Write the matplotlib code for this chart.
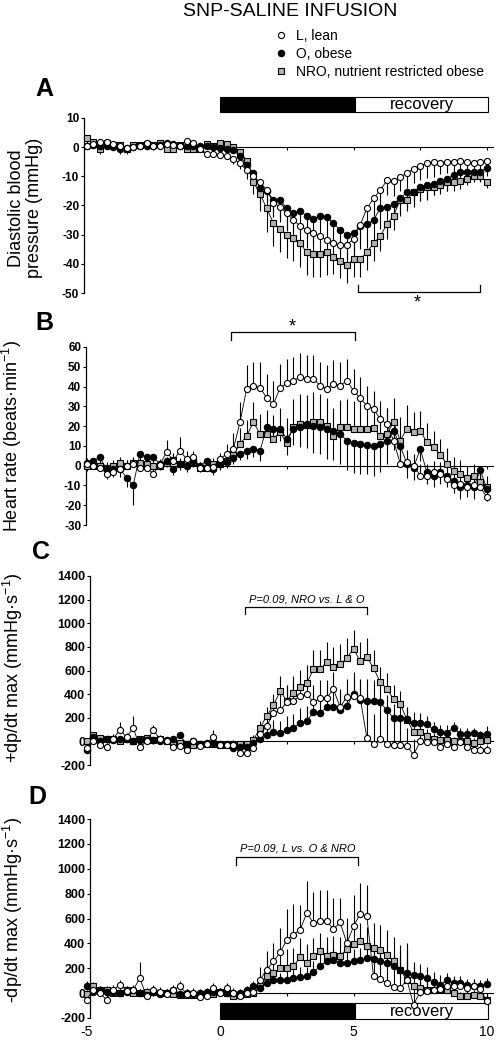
import numpy as np
import matplotlib
matplotlib.use("Agg")
import matplotlib.pyplot as plt
from matplotlib.patches import Rectangle
from matplotlib.lines import Line2D

plt.rcParams['font.family'] = ['Liberation Sans', 'DejaVu Sans']
plt.rcParams['mathtext.fontset'] = 'custom'
plt.rcParams['mathtext.rm'] = 'Liberation Sans'
plt.rcParams['axes.unicode_minus'] = False

# time (min), -5 .. 10 in 15 s bins
minutes = np.arange(-5, 10.01, 0.25)

# ---- A: diastolic blood pressure (mmHg) ----
dbp_L = [0.5, 1.2, 1.6, 1.8, 1.0, 0.5, -0.2, 0.0, 0.3, 1.3,
         0.5, 0.5, 1.0, 0.8, 0.5, 2.2, 1.3, -0.5, -2.2, -2.2,
         -2.7, -2.9, -3.9, -5.6, -7.9, -10.0, -12.0, -14.7, -19.0, -20.5,
         -22.7, -25.0, -27.0, -28.5, -29.5, -30.5, -32.0, -33.0, -33.5, -33.5,
         -31.5, -26.7, -21.0, -17.6, -14.8, -11.4, -11.7, -10.2, -8.9, -7.4,
         -6.3, -5.5, -5.1, -5.3, -5.0, -5.0, -4.8, -5.2, -5.3, -5.2, -4.8]
dbp_O = [0.5, 0.8, 0.3, 0.5, 0.0, -0.5, -0.3, 0.0, 0.3, 0.5,
         0.5, 0.8, 1.5, 1.0, 0.5, 0.5, 0.5, 0.5, 0.3, 0.0,
         -0.2, -0.5, -1.0, -3.0, -6.0, -9.0, -14.0, -15.0, -18.0, -18.0,
         -21.0, -22.5, -22.0, -23.5, -24.5, -23.5, -24.0, -26.0, -28.5, -30.0,
         -29.5, -27.0, -26.5, -25.0, -21.0, -20.5, -19.5, -17.5, -15.5, -15.5,
         -13.5, -13.0, -12.5, -11.5, -11.0, -9.5, -8.5, -8.5, -8.5, -8.5, -7.0]
dbp_NRO = [3.3, 1.8, -0.5, 1.3, 0.7, 0.7, -0.5, 0.7, 0.7, 1.0,
           0.9, 1.3, -0.5, -0.5, 0.9, -0.8, -0.8, -0.5, 1.0, 0.3,
           1.3, 1.2, 0.0, -1.6, -4.7, -12.0, -16.0, -21.0, -26.0, -28.0,
           -30.0, -31.0, -33.0, -36.0, -36.5, -36.5, -36.0, -37.5, -39.0, -40.5,
           -38.5, -38.5, -36.0, -33.0, -30.5, -26.5, -23.5, -18.0, -18.0, -15.5,
           -14.5, -13.5, -13.5, -13.0, -12.0, -12.0, -11.5, -11.0, -10.0, -10.0, -12.0]
dbp_L_se = [1, 1, 1, 1, 1, 1, 1, 1, 1, 1, 1, 1, 1, 1, 1, 1, 1, 1, 1, 1,
            1, 1, 2, 2, 3, 3, 4, 4, 5, 5, 6, 6, 6, 6, 6, 6, 6, 6, 6, 6,
            6, 6, 6, 6, 5, 5, 5, 5, 5, 5, 5, 5, 5, 4, 4, 4, 4, 4, 4, 4, 4]
dbp_O_se = [1, 1, 2, 1, 1, 2, 2, 1, 1, 1, 1, 1, 1, 1, 1, 1, 1, 1, 1, 1,
            1, 1, 1, 2, 3, 4, 5, 6, 6, 7, 7, 7, 7, 7, 8, 8, 8, 8, 8, 8,
            8, 8, 8, 7, 7, 6, 6, 6, 5, 5, 5, 5, 4, 4, 4, 4, 4, 3, 3, 3, 3]
dbp_NRO_se = [2, 1, 2, 1, 1, 1, 1, 1, 1, 1, 1, 1, 1, 1, 1, 1, 1, 1, 1, 1,
              1, 1, 2, 2, 3, 4, 6, 8, 8, 8, 8, 8, 8, 8, 8, 8, 8, 6, 6, 6,
              6, 6, 6, 6, 5, 5, 5, 5, 4, 4, 4, 4, 3, 3, 3, 3, 3, 2, 2, 2, 2]

# ---- B: heart rate (beats/min) ----
hr_L = [1, 0, -1, -4, -3, -1.5, 0, 1, -1, -1,
        -4, 0.5, 7, 2.5, 7.5, 3.4, 4.5, -1, -1, -0.5,
        3.4, 6, 8.4, 22, 39, 40.5, 39.4, 34.3, 31, 39.4,
        41.7, 43, 44.8, 44, 44, 40.5, 39, 41.4, 40.5, 43,
        38, 34, 30.4, 28.7, 23.6, 21, 12.7, 1, 1.7, 0,
        -5, -5, -3.4, -4, -6.8, -10, -9.3, -11, -10, -11, -16]
hr_O = [1.4, 2.5, 4.2, -1.7, -1.5, -1.7, -6, -10, 6, 4.2,
        4.2, 1, 2.5, -1.7, 1, 0, 2.5, 0, 2.5, -1.7,
        1, 1.7, 3.7, 6, 7.6, 8.4, 7.6, 19.4, 18.6, 18.6,
        13.5, 18.6, 19.4, 21, 20.3, 19.8, 18.6, 17.7, 16, 12.7,
        11.3, 11, 10.7, 10, 11, 12.7, 17.7, 10, 1, -1,
        8.4, -3.4, -5, -3.4, -5, -7.6, -11, -10, -11, -2.2, -12]
hr_NRO = [0, -0.3, -0.3, -1, 0, 1.4, -0.3, 1.4, 1.4, 0.8,
          -0.3, -0.3, 1.2, 3, 0.8, 1.7, 1.7, -1, -1, 0.8,
          1, 2.5, 5.4, 11, 15, 22, 16, 16, 13.5, 17,
          11.3, 19.8, 21, 20.5, 22.3, 22, 20.3, 15.2, 19.4, 19.8,
          18.6, 18.6, 18.6, 19, 15.2, 16, 22, 12.7, 18.6, 17,
          17.7, 11.8, 9.3, 5.6, 0.8, -2.5, -4, -6, -5, -8.4, -11]
hr_L_se = [3, 4, 3, 4, 3, 3, 3, 3, 3, 3, 3, 3, 6, 4, 7, 4, 3, 3, 3, 3,
           3, 5, 8, 10, 12, 12, 13, 12, 12, 12, 12, 12, 12, 12, 12, 12, 12, 12, 12, 11,
           11, 11, 10, 9, 9, 8, 8, 7, 6, 6, 6, 6, 6, 6, 6, 6, 6, 6, 6, 6, 6]
hr_O_se = [4, 4, 3, 5, 4, 4, 5, 10, 3, 3, 3, 3, 3, 3, 3, 3, 3, 3, 3, 3,
           3, 3, 3, 3, 4, 4, 5, 5, 6, 6, 8, 8, 10, 12, 14, 14, 15, 15, 15, 15,
           15, 15, 15, 15, 14, 12, 10, 8, 7, 6, 6, 6, 6, 6, 6, 6, 6, 6, 6, 6, 6]
hr_NRO_se = [3, 3, 3, 3, 3, 3, 3, 3, 3, 3, 3, 3, 3, 3, 3, 3, 3, 3, 3, 3,
             2, 3, 5, 8, 8, 10, 10, 12, 12, 12, 13, 14, 15, 15, 15, 14, 14, 14, 14, 14,
             14, 14, 14, 14, 14, 13, 12, 12, 12, 10, 10, 10, 8, 8, 8, 7, 7, 6, 6, 6, 6]

# ---- C: +dp/dt max (mmHg/s) ----
dpp_L = [-60, 0, -30, -45, 20, 100, 35, 115, -50, 0,
         97, 20, 0, -45, -40, -70, 0, -40, -20, 35,
         -30, -30, -30, -100, -100, -60, 60, 130, 237, 264,
         330, 345, 385, 400, 330, 370, 370, 440, 290, 377,
         380, 370, 30, -20, 20, -20, -30, -30, -40, -113,
         0, -5, -5, -45, -20, -45, -5, -45, -70, -70, -70]
dpp_O = [-70, 35, 5, 20, 10, 20, 20, 0, 10, 10,
         10, 0, 10, 20, 50, -20, 0, -20, -10, -10,
         -20, -20, -60, -45, -45, -10, 20, 50, 80, 70,
         97, 115, 156, 170, 250, 242, 290, 290, 264, 296,
         404, 350, 345, 340, 330, 264, 197, 197, 190, 156,
         156, 143, 102, 80, 75, 115, 62, 62, 70, 50, 62]
dpp_NRO = [0, 50, 25, 20, 20, 0, 20, 0, 20, 25,
           10, 20, 0, -20, -10, -20, -30, -25, -20, -20,
           -30, -30, -30, -25, -25, 10, 115, 215, 305, 425,
           345, 410, 457, 493, 610, 610, 673, 627, 654, 703,
           785, 680, 713, 622, 500, 447, 358, 318, 183, 80,
           80, 43, 20, 10, 10, 0, 0, 0, -10, 0, 10]
dpp_L_se = [30, 30, 30, 30, 40, 60, 40, 100, 30, 30, 40, 30, 30, 30, 30, 30, 30, 30, 30, 60,
            30, 30, 40, 40, 40, 50, 80, 100, 120, 150, 150, 150, 150, 150, 150, 150, 150, 150, 150, 150,
            150, 150, 380, 250, 300, 280, 250, 200, 150, 130, 80, 60, 60, 50, 50, 40, 40, 40, 40, 40, 40]
dpp_O_se = [40, 30, 20, 20, 20, 20, 20, 20, 20, 20, 20, 20, 20, 20, 20, 20, 20, 20, 20, 20,
            20, 20, 20, 20, 30, 40, 60, 80, 100, 100, 120, 120, 130, 130, 150, 150, 150, 150, 150, 150,
            180, 180, 180, 180, 150, 130, 120, 110, 100, 90, 80, 70, 60, 60, 60, 50, 50, 50, 40, 40, 70]
dpp_NRO_se = [20, 20, 20, 20, 20, 20, 20, 20, 20, 20, 20, 20, 20, 20, 20, 20, 20, 20, 20, 20,
              20, 20, 20, 20, 20, 40, 60, 80, 100, 130, 130, 140, 150, 150, 160, 160, 170, 170, 170, 170,
              160, 160, 160, 150, 130, 130, 120, 110, 100, 80, 70, 60, 50, 50, 40, 40, 40, 40, 40, 40, 40]

# ---- D: -dp/dt max (mmHg/s) ----
dpm_L = [-54, 27, 0, -54, 27, 67, 20, 27, 120, -27,
         27, 13, -5, 27, 54, -5, 0, -32, -27, 40,
         0, 40, 5, -27, 0, 13, 107, 188, 255, 327,
         429, 470, 510, 644, 563, 577, 577, 515, 568, 402,
         536, 638, 617, 134, 113, 80, 50, 40, 107, -94,
         13, 20, 25, 30, 54, 54, 54, 40, 54, 30, -67]
dpm_O = [54, 13, 27, 13, 13, 0, 13, 27, 0, -13,
         13, -5, 0, 27, -5, 5, -5, 5, 13, 13,
         13, 0, 5, 0, 27, 54, 40, 80, 102, 102,
         107, 120, 129, 134, 166, 220, 255, 263, 241, 241,
         255, 263, 282, 273, 255, 241, 215, 188, 161, 147,
         134, 120, 86, 67, 102, 80, 80, 67, 54, 59, 75]
dpm_NRO = [-5, 54, 27, 27, 0, 5, 27, 5, 5, 13,
           13, 0, 5, -5, -13, -13, -13, -13, -5, -5,
           13, 5, -27, -13, -5, 0, 54, 134, 161, 201,
           201, 215, 290, 241, 295, 335, 300, 308, 300, 354,
           397, 416, 381, 362, 349, 308, 255, 188, 102, 59,
           40, 27, 27, 32, 27, 5, -27, -21, -13, -27, -54]
dpm_L_se = [40, 60, 40, 40, 40, 40, 40, 40, 130, 40, 40, 40, 40, 40, 40, 40, 40, 40, 40, 40,
            40, 40, 40, 40, 40, 60, 100, 150, 150, 200, 250, 250, 200, 256, 250, 250, 250, 250, 200, 200,
            250, 250, 250, 200, 250, 250, 250, 300, 300, 160, 100, 100, 80, 60, 60, 60, 60, 60, 60, 60, 60]
dpm_O_se = [40, 30, 30, 30, 30, 30, 30, 30, 30, 30, 30, 30, 30, 30, 30, 30, 30, 30, 30, 30,
            30, 30, 30, 30, 30, 40, 50, 60, 60, 60, 70, 70, 80, 80, 90, 100, 100, 100, 100, 100,
            100, 100, 100, 100, 100, 100, 100, 100, 100, 100, 100, 90, 80, 80, 60, 60, 60, 50, 50, 50, 50]
dpm_NRO_se = [30, 30, 30, 30, 30, 30, 30, 30, 30, 30, 30, 30, 30, 30, 30, 30, 30, 30, 30, 30,
              30, 30, 30, 30, 30, 40, 100, 150, 150, 150, 150, 150, 150, 150, 150, 150, 150, 150, 150, 150,
              150, 150, 150, 200, 200, 200, 200, 200, 250, 150, 100, 80, 60, 50, 50, 40, 40, 40, 40, 40, 40]

group_labels = ['L, lean', 'O, obese', 'NRO, nutrient restricted obese']

W, H = 498, 1046
fig = plt.figure(figsize=(W / 100, H / 100), dpi=100)

X0, PPU = 220.0, 26.7   # pixel of t=0 and pixels per minute
RIGHT = 493

sty = {
    'L': dict(marker='o', mfc='white', mec='black', ms=4.4, mew=0.8),
    'O': dict(marker='o', mfc='black', mec='black', ms=4.6, mew=0.8),
    'NRO': dict(marker='s', mfc='#b3b3b3', mec='black', ms=4.6, mew=0.8),
}


def make_axes(left, top, bottom, ylim, yticks, tickfs):
    ax = fig.add_axes([left / W, 1 - bottom / H, (RIGHT - left) / W, (bottom - top) / H])
    ax.set_xlim((left - X0) / PPU, (RIGHT - X0) / PPU)
    ax.set_ylim(*ylim)
    ax.set_yticks(yticks)
    ax.set_yticklabels([str(v) for v in yticks], fontweight='bold', fontsize=tickfs)
    ax.set_xticks([-2.5, 0, 2.5, 5, 7.5, 10])
    ax.tick_params(axis='x', direction='out', length=2.5, width=0.8, labelbottom=False)
    ax.tick_params(axis='y', direction='out', length=2.5, width=0.8, pad=1)
    for s in ['top', 'right']:
        ax.spines[s].set_visible(False)
    ax.spines['bottom'].set_position(('data', 0))
    ax.spines['left'].set_linewidth(0.9)
    ax.spines['bottom'].set_linewidth(0.8)
    ax.patch.set_alpha(0)
    return ax


def draw_series(ax, series):
    # series: list of (key, values, se, direction)
    for key, vals, se, d in series:
        v = np.asarray(vals, float)
        e = np.asarray(se, float)
        ax.vlines(minutes, v, v + d * e, color='black', lw=0.8, zorder=2, clip_on=False)
    for i, (key, vals, se, d) in enumerate(series):
        ax.plot(minutes, vals, color='black', lw=0.6, zorder=3 + i, clip_on=False, **sty[key])


def bracket(ax, x1, x2, y, yend):
    ax.plot([x1, x1, x2, x2], [yend, y, y, yend], color='black', lw=0.9, clip_on=False)


def phase_bar(ax, y0, h):
    ax.add_patch(Rectangle((0, y0), 5.05, h, fc='black', ec='black', lw=0.8, clip_on=False))
    ax.add_patch(Rectangle((5.05, y0), 5.0, h, fc='white', ec='black', lw=0.8, clip_on=False))
    ax.text(7.55, y0 + h / 2, 'recovery', ha='center', va='center', fontsize=12, clip_on=False)


# Panel A
axA = make_axes(84, 118, 293, (-50, 10), list(range(-50, 11, 10)), 8.5)
draw_series(axA, [('NRO', dbp_NRO, dbp_NRO_se, -1), ('O', dbp_O, dbp_O_se, -1), ('L', dbp_L, dbp_L_se, -1)])
phase_bar(axA, 12.0, 5.2)
bracket(axA, 5.15, 9.75, -49.6, -47.2)
axA.text(7.4, -53.5, '*', ha='center', va='center', fontsize=13)

# Panel B
axB = make_axes(86, 347, 525, (-30, 60), list(range(-30, 61, 10)), 8.5)
draw_series(axB, [('NRO', hr_NRO, hr_NRO_se, 1), ('O', hr_O, hr_O_se, -1), ('L', hr_L, hr_L_se, 1)])
bracket(axB, 0.4, 5.05, 67.6, 63.5)
axB.text(2.7, 70.0, '*', ha='center', va='center', fontsize=13)

# Panel C
axC = make_axes(90, 576, 765, (-200, 1400), list(range(-200, 1401, 200)), 9)
draw_series(axC, [('NRO', dpp_NRO, dpp_NRO_se, 1), ('O', dpp_O, dpp_O_se, 1), ('L', dpp_L, dpp_L_se, 1)])
bracket(axC, 0.95, 5.5, 1137, 1078)
axC.text(3.25, 1205, 'P=0.09, NRO vs. L & O', ha='center', va='center', fontsize=8, style='italic')

# Panel D
axD = make_axes(90, 819, 1018, (-200, 1400), list(range(-200, 1401, 200)), 9)
draw_series(axD, [('NRO', dpm_NRO, dpm_NRO_se, 1), ('O', dpm_O, dpm_O_se, 1), ('L', dpm_L, dpm_L_se, 1)])
bracket(axD, 0.6, 5.18, 1095, 1030)
axD.text(2.9, 1159, 'P=0.09, L vs. O & NRO', ha='center', va='center', fontsize=8, style='italic')
phase_bar(axD, -209, 128)
for v in [-5, 0, 5, 10]:
    axD.text(v, -0.07, str(v), transform=axD.get_xaxis_transform(), ha='center', va='center', fontsize=10)

# y labels
ylab = dict(rotation=90, ha='center', va='center', fontsize=13)
fig.text(25.5 / W, 1 - 208 / H, 'Diastolic blood\npressure (mmHg)', multialignment='center', linespacing=1.15, **ylab)
fig.text(12 / W, 1 - 436 / H, 'Heart rate (beats\u00b7min$^{-1}$)', **ylab)
fig.text(13 / W, 1 - 668 / H, '+dp/dt max (mmHg\u00b7s$^{-1}$)', **ylab)
fig.text(13 / W, 1 - 910 / H, '-dp/dt max (mmHg\u00b7s$^{-1}$)', **ylab)

# panel letters and title
for letter, (px, py) in zip('ABCD', [(35, 89), (35, 323), (32, 552), (28, 797)]):
    fig.text(px / W, 1 - py / H, letter, fontsize=18, fontweight='bold', ha='left', va='center')
fig.text(290 / W, 1 - 11 / H, 'SNP-SALINE INFUSION', fontsize=14, ha='center', va='center')

handles = [Line2D([], [], ls='none', **sty[k]) for k in ['L', 'O', 'NRO']]
fig.legend(handles, group_labels, loc='upper left', bbox_to_anchor=(275 / W, 1 - 29 / H),
           frameon=False, fontsize=10, handlelength=0.9, handletextpad=0.6,
           labelspacing=0.3, borderpad=0, borderaxespad=0)

fig.savefig('out.png', dpi=100)
